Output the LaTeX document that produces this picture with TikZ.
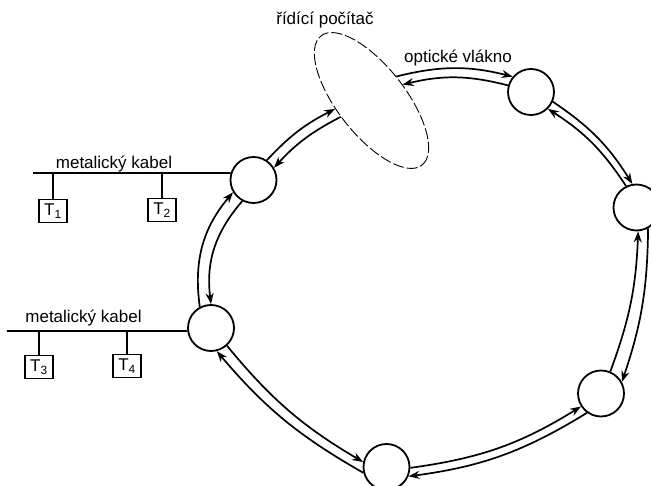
\documentclass[tikz,border=0pt]{standalone}
\usepackage{fontspec}
\setmainfont{Liberation Sans}
\usetikzlibrary{arrows.meta,shapes.geometric}
\begin{document}
\begin{tikzpicture}[x=1pt,y=1pt,
  stn/.style={circle,draw,line width=1.8pt,minimum size=46pt,inner sep=0pt},
  fib/.style={line width=1.7pt,-{Stealth[length=11pt,width=8pt]}},
  term/.style={draw,line width=1.8pt,minimum width=28pt,minimum height=23pt,inner sep=0pt,font=\fontsize{17}{20}\selectfont},
  wire/.style={line width=1.8pt},
  lbl/.style={font=\fontsize{17}{20}\selectfont,inner sep=0pt,anchor=base},
]
\useasboundingbox (0,0) rectangle (651,485);
\clip (0,0) rectangle (651,485);
% stations
\node[stn] (A) at (531,393) {};
\node[stn] (B) at (636.5,277.5) {};
\node[stn] (C) at (601,91.5) {};
\node[stn] (D) at (386.5,18) {};
\node[stn] (E) at (211,157) {};
\node[stn] (F) at (253.5,305) {};
% control computer
\node[ellipse,draw,dash pattern=on 11pt off 3pt,line width=0.9pt,minimum width=164pt,minimum height=68pt,inner sep=0pt,rotate=-52] (pc) at (371.5,384.5) {};
\node[lbl] (pclbl) at (325,460) {řídící počítač};
\node[lbl] (fiblbl) at (458,422) {optické vlákno};
% fibre links
\draw[fib] (F.56) to[bend left=10] (pc.245);
\draw[fib] (pc.260) to[bend right=10] (F.31);
\draw[fib] (pc.96) to[bend left=14] (A.140);
\draw[fib] (A.164) to[bend right=14] (pc.79);
\draw[fib] (A.-24) to[bend left=12] (B.100);
\draw[fib] (B.116) to[bend right=12] (A.-45);
\draw[fib] (B.-61) to[bend left=9] (C.29);
\draw[fib] (C.67) to[bend right=9] (B.-86);
\draw[fib] (C.234) to[bend left=12] (D.-23);
\draw[fib] (D.-2) to[bend right=12] (C.213);
\draw[fib] (D.194) to[bend left=10] (E.-76);
\draw[fib] (E.-48) to[bend right=10] (D.168);
\draw[fib] (E.118) to[bend left=24] (F.211);
\draw[fib] (F.242) to[bend right=24] (E.90);
% metallic cable 1
\coordinate (l1) at (33,312);
\draw[wire] (l1) -- (F.163);
\node[lbl] (k1) at (114,316) {metalický kabel};
\node[term] (T1) at (53,274) {T\textsubscript{1}};
\node[term] (T2) at (162,275) {T\textsubscript{2}};
\draw[wire] (T1.north) -- (T1.north |- l1);
\draw[wire] (T2.north) -- (T2.north |- l1);
% metallic cable 2
\coordinate (l2) at (7,154);
\draw[wire] (l2) -- (E.187);
\node[lbl] (k2) at (83.5,162) {metalický kabel};
\node[term] (T3) at (39,118) {T\textsubscript{3}};
\node[term] (T4) at (127,119) {T\textsubscript{4}};
\draw[wire] (T3.north) -- (T3.north |- l2);
\draw[wire] (T4.north) -- (T4.north |- l2);
\end{tikzpicture}
\end{document}
